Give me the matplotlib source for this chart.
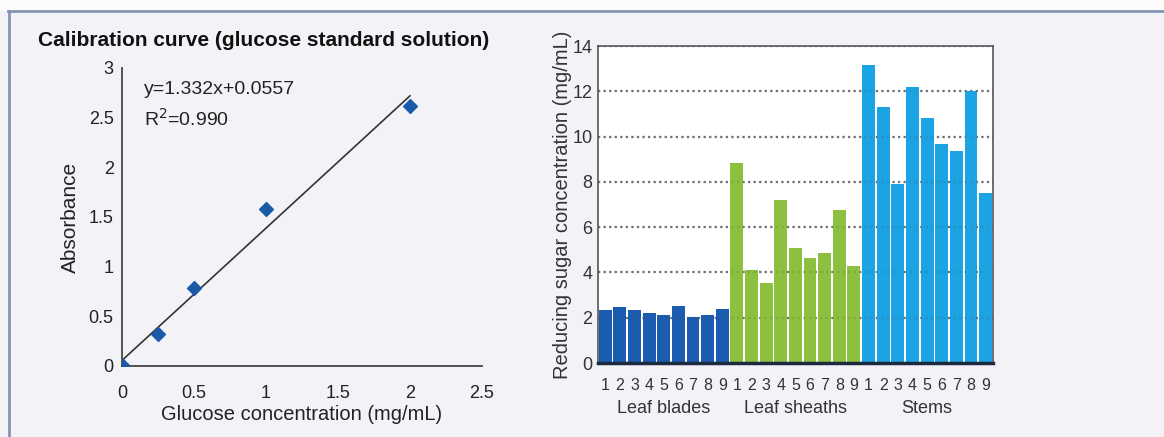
import numpy as np
import matplotlib.pyplot as plt
from matplotlib.transforms import blended_transform_factory

plt.rcParams['font.family'] = ['Liberation Sans', 'DejaVu Sans']

# calibration data
conc = [0, 0.25, 0.5, 1.0, 2.0]
absorb = [0.01, 0.32, 0.78, 1.58, 2.62]
slope = 1.332
intercept = 0.0557

# reducing sugar per sample
groups = ["Leaf blades", "Leaf sheaths", "Stems"]
blades = [2.35, 2.46, 2.32, 2.2, 2.13, 2.52, 2.05, 2.13, 2.38]
sheaths = [8.83, 4.13, 3.52, 7.18, 5.06, 4.66, 4.87, 6.77, 4.28]
stems = [13.15, 11.32, 7.92, 12.17, 10.8, 9.68, 9.35, 12.02, 7.5]
sample_labels = [str(i) for i in range(1, 10)]
colors = ["#1a5cb0", "#8cc03e", "#1ba3e3"]

fig = plt.figure(figsize=(11.64, 4.37), dpi=100)
fig.patch.set_facecolor("#f3f3f7")

# frame lines / top strip
fig.patches.append(plt.Rectangle((0, 0.975), 1, 0.025, transform=fig.transFigure,
                                 facecolor="#fdfafa", edgecolor="none", zorder=0))
fig.lines.append(plt.Line2D([0.007, 1], [0.975, 0.975], transform=fig.transFigure,
                            color="#8494b4", lw=2))
fig.lines.append(plt.Line2D([0.008, 0.008], [0, 0.975], transform=fig.transFigure,
                            color="#8494b4", lw=2))

# left: calibration curve
ax1 = fig.add_axes([0.1048, 0.1625, 0.3093, 0.682])
ax1.set_facecolor("none")
ax1.scatter(conc, absorb, marker="D", s=50, color="#1a5aa8", zorder=3)
xf = np.array([0, 2.0])
ax1.plot(xf, slope * xf + intercept, color="#333333", lw=1.2, zorder=2)
ax1.set_xlim(0, 2.5)
ax1.set_ylim(0, 3)
ax1.set_xticks([0, 0.5, 1, 1.5, 2, 2.5])
ax1.set_xticklabels(["0", "0.5", "1", "1.5", "2", "2.5"])
ax1.set_yticks([0, 0.5, 1, 1.5, 2, 2.5, 3])
ax1.set_yticklabels(["0", "0.5", "1", "1.5", "2", "2.5", "3"])
ax1.tick_params(axis="y", length=0, labelsize=13, colors="#222222", pad=6)
ax1.tick_params(axis="x", length=0, labelsize=13, colors="#222222", pad=14)
for s in ["top", "right"]:
    ax1.spines[s].set_visible(False)
for s in ["left", "bottom"]:
    ax1.spines[s].set_color("#444444")
    ax1.spines[s].set_linewidth(1.3)
ax1.set_xlabel("Glucose concentration (mg/mL)", fontsize=14.5, labelpad=2, color="#222222")
ax1.set_ylabel("Absorbance", fontsize=15, labelpad=6, color="#222222")
ax1.text(0.15, 2.78, "y=1.332x+0.0557", fontsize=14, va="center", color="#222222")
ax1.text(0.15, 2.49, "R$^2$=0.990", fontsize=14, va="center", color="#222222")
fig.text(0.033, 0.908, "Calibration curve (glucose standard solution)", fontsize=15,
         fontweight="bold", color="#111111", va="center")

# right: bar chart
ax2 = fig.add_axes([0.5137, 0.1693, 0.3393, 0.7254])
ax2.set_facecolor("white")
values = blades + sheaths + stems
x = np.arange(len(values))
bar_colors = [colors[0]] * 9 + [colors[1]] * 9 + [colors[2]] * 9
ax2.yaxis.grid(True, linestyle=(0, (1, 1.5)), color="#777777", lw=1.6, zorder=0)
ax2.set_axisbelow(True)
ax2.bar(x, values, width=0.88, color=bar_colors, zorder=2)
for yv in [2, 4, 6, 8, 10, 12]:
    ax2.axhline(yv, linestyle=(0, (1, 1.5)), color="#555555", lw=1.6, alpha=0.2, zorder=3)
ax2.set_xlim(-0.5, 26.5)
ax2.set_ylim(0, 14)
ax2.set_yticks(range(0, 15, 2))
ax2.set_xticks(x)
ax2.set_xticklabels(sample_labels * 3)
ax2.tick_params(axis="y", length=0, labelsize=13, colors="#333333", pad=4)
ax2.tick_params(axis="x", length=0, labelsize=11.5, colors="#333333", pad=11)
for s in ["top", "right", "left"]:
    ax2.spines[s].set_color("#555555")
    ax2.spines[s].set_linewidth(1.2)
ax2.spines["bottom"].set_color("#1c2a40")
ax2.spines["bottom"].set_linewidth(2.5)
ax2.set_ylabel("Reducing sugar concentration (mg/mL)", fontsize=14.5, color="#333333", labelpad=0)
trans = blended_transform_factory(ax2.transData, ax2.transAxes)
for i, g in enumerate(groups):
    ax2.text(i * 9 + 4, -0.145, g, transform=trans, ha="center", va="center",
             fontsize=13, color="#333333")

fig.savefig("out.png", dpi=100, facecolor=fig.get_facecolor())
